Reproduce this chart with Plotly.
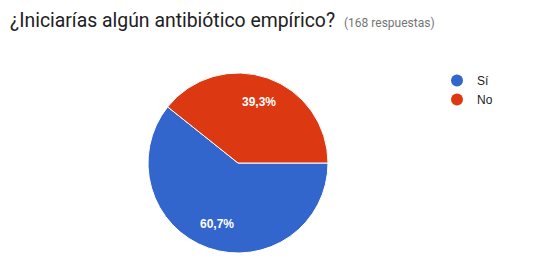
import math
import plotly.graph_objects as go

labels = ["Sí", "No"]
values = [102, 66]
colors = ["#3366cc", "#dc3912"]
title_text = "¿Iniciarías algún antibiótico empírico?"
subtitle_text = "(168 respuestas)"

W, H = 533, 268
dom_x = [148 / W, 328 / W]
dom_y = [15 / H, 195 / H]

fig = go.Figure()
fig.add_trace(go.Pie(
    labels=labels, values=values, sort=False, direction="clockwise", rotation=90,
    marker=dict(colors=colors, line=dict(color="white", width=1)),
    textinfo="none", showlegend=False, hoverinfo="label+percent",
    domain=dict(x=dom_x, y=dom_y),
))
for lab, col in zip(labels, colors):
    fig.add_trace(go.Scatter(x=[None], y=[None], mode="markers", name=lab,
                             marker=dict(color=col, size=12, symbol="circle")))

# percentage labels placed along each slice's mid-angle
total = sum(values)
cx = (dom_x[0] + dom_x[1]) / 2 * W
cy = (dom_y[0] + dom_y[1]) / 2 * H
R = min((dom_x[1] - dom_x[0]) * W, (dom_y[1] - dom_y[0]) * H) / 2
start = 0.0  # 3 o'clock, clockwise
for v in values:
    frac = v / total
    mid = start - frac * 360 / 2
    start -= frac * 360
    rr = 0.72 * R
    px = cx + rr * math.cos(math.radians(mid))
    py = cy + rr * math.sin(math.radians(mid))
    txt = f"{frac * 100:.1f}%".replace(".", ",")
    fig.add_annotation(text=f"<b>{txt}</b>", xref="paper", yref="paper",
                       x=px / W, y=py / H, xanchor="center", yanchor="middle",
                       showarrow=False,
                       font=dict(family="Liberation Sans, Arial", size=12, color="white"))

fig.add_annotation(
    text=f"<span style='font-size:19.4px;color:#212121'>{title_text}</span>"
         f"<span style='font-size:12px;color:#757575'>   {subtitle_text}</span>",
    xref="paper", yref="paper", x=8 / W, y=1 - 7 / H, xanchor="left", yanchor="top",
    showarrow=False, font=dict(family="Roboto, Arial", size=19.4, color="#212121"),
)

fig.update_layout(
    width=W, height=H, margin=dict(l=0, r=0, t=0, b=0),
    paper_bgcolor="white", plot_bgcolor="white",
    xaxis=dict(visible=False), yaxis=dict(visible=False),
    legend=dict(x=437 / W, y=1 - 66 / H, xanchor="left", yanchor="top",
                font=dict(family="Liberation Sans, Arial", size=12, color="#222222"),
                itemsizing="constant", tracegroupgap=0, bgcolor="rgba(0,0,0,0)"),
)
fig.write_html("out.html")
